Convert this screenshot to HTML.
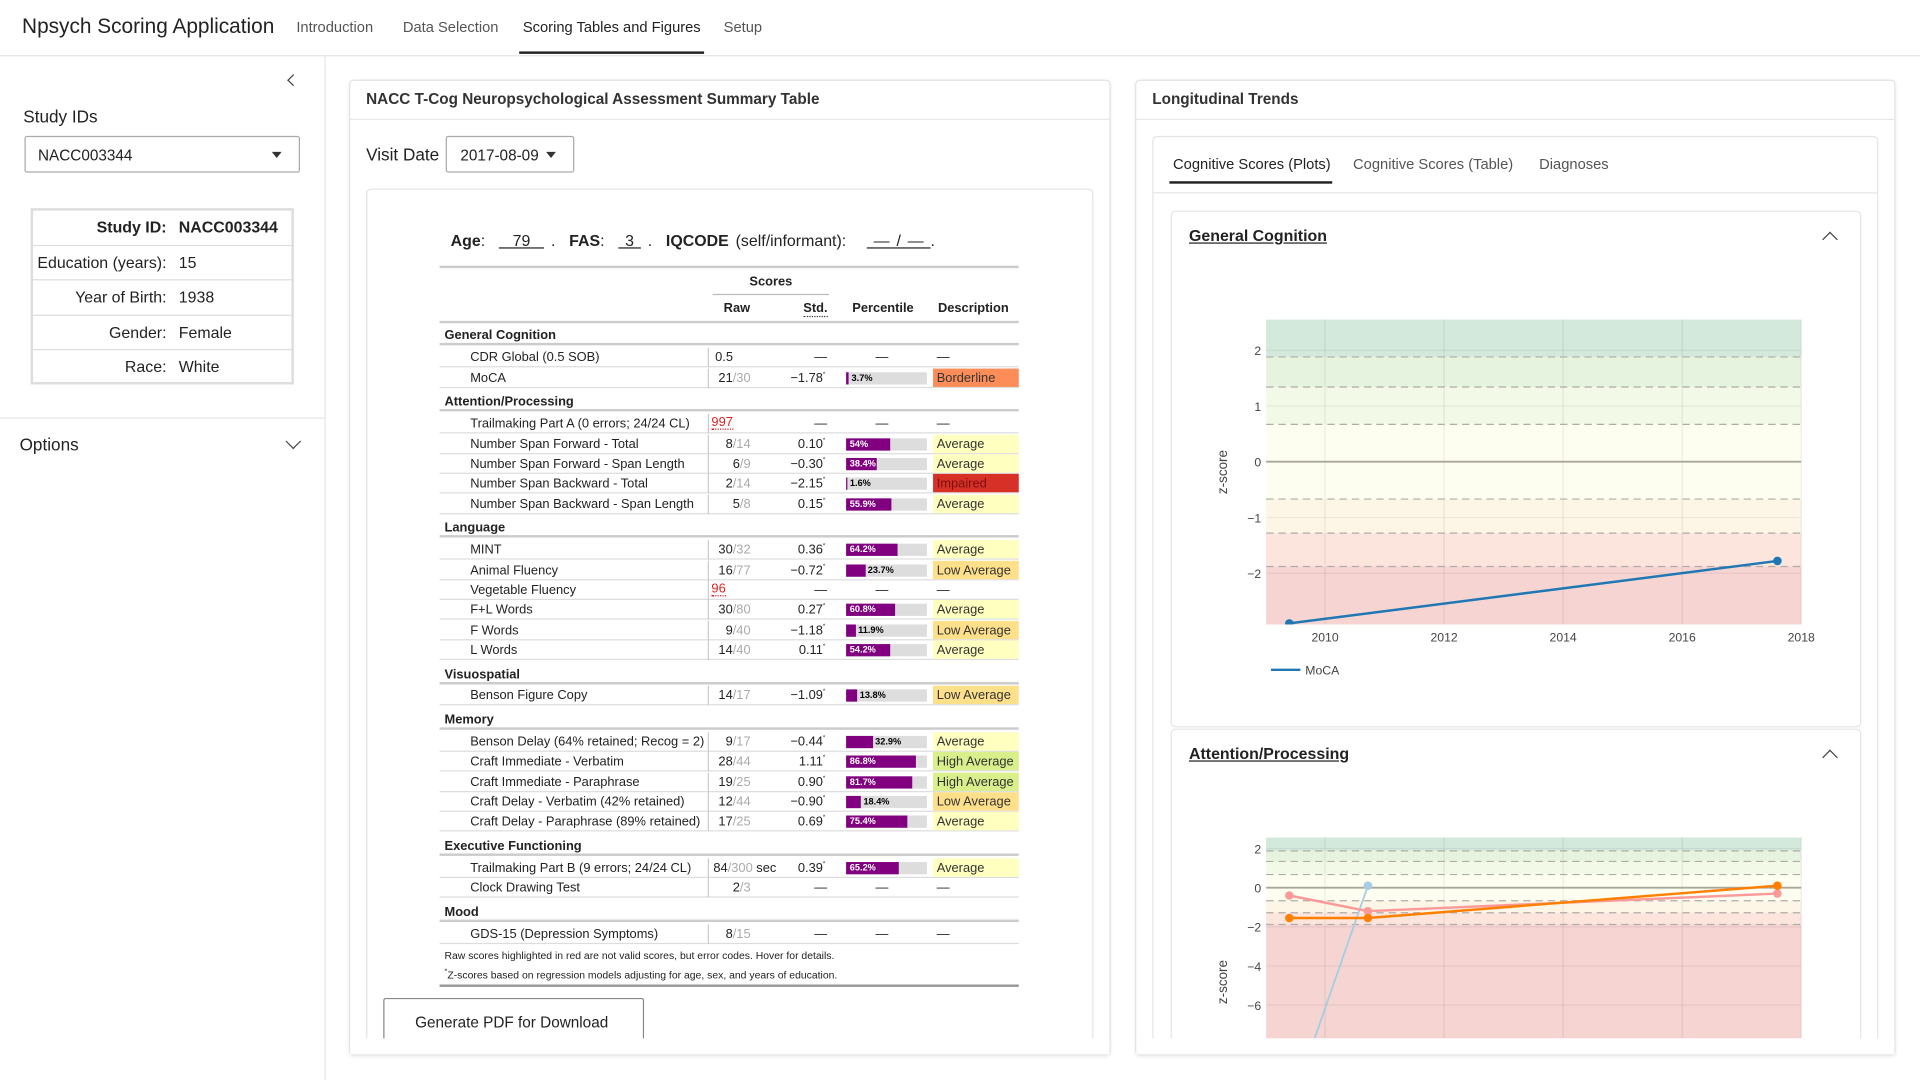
<!DOCTYPE html>
<html><head><meta charset="utf-8"><style>
*{box-sizing:border-box;margin:0;padding:0}
html,body{width:1920px;height:1080px;overflow:hidden;background:#fff}
body{font-family:"Liberation Sans",sans-serif;color:#222}
#root{position:absolute;left:0;top:0;width:1568px;height:882px;transform:scale(1.22449);transform-origin:0 0;overflow:hidden}
.a{position:absolute;white-space:nowrap}
.nav{font-size:12px;color:#555}
.card{position:absolute;border:1px solid #e3e3e3;border-radius:4px;background:#fff;box-shadow:0 1px 3px rgba(0,0,0,.08)}
.row{position:absolute;left:359px;width:473px;height:16.4px;font-size:10.5px;border-bottom:1px solid #ddd}
.sec{position:absolute;left:359px;width:473px;height:19px;font-size:10.5px;font-weight:bold;border-bottom:2px solid #ccc;padding:5px 0 0 4px}
.row span{position:absolute;top:2px}
.bar{position:absolute;left:332px;top:3px;width:66px;height:10px;background:#ddd}
.bar i{position:absolute;left:0;top:0;height:10px;background:#800080}
.bar b{position:absolute;top:0;font-size:7.5px;line-height:10px}
.desc{position:absolute;left:403px;top:0;width:70px;height:15.4px;padding:2px 0 0 3px}
.chev{position:absolute;width:9px;height:9px;border-right:1.5px solid #444;border-bottom:1.5px solid #444}
</style></head><body>
<div id="root">
<div class="a" style="left:0;top:45px;width:1568px;border-top:1px solid #e5e5e5"></div>
<div class="a" style="left:18px;top:12px;font-size:17px;color:#222">Npsych Scoring Application</div>
<div class="a nav" style="left:242px;top:15px">Introduction</div>
<div class="a nav" style="left:329px;top:15px">Data Selection</div>
<div class="a nav" style="left:427px;top:15px;color:#222">Scoring Tables and Figures</div>
<div class="a" style="left:424px;top:42px;width:151px;height:2px;background:#222"></div>
<div class="a nav" style="left:591px;top:15px">Setup</div>
<div class="a" style="left:265px;top:46px;height:836px;border-left:1px solid #e5e5e5"></div>
<div class="chev" style="left:236px;top:62px;transform:rotate(135deg);width:7px;height:7px"></div>
<div class="a" style="left:19px;top:87px;font-size:14px">Study IDs</div>
<div class="a" style="left:20px;top:111px;width:225px;height:30px;border:1px solid #aaa;border-radius:2px;font-size:12.5px;padding:8px 0 0 10px">NACC003344<span style="position:absolute;right:14px;top:12px;border:4px solid transparent;border-top:5px solid #333"></span></div>
<div class="a" style="left:25px;top:170px;width:215px;height:144px;border:2px solid #ddd"></div>
<div id="info"></div>
<div class="a" style="left:0;top:341px;width:265px;border-top:1px solid #e5e5e5"></div>
<div class="a" style="left:16px;top:355px;font-size:14px">Options</div>
<div class="chev" style="left:235px;top:356px;transform:rotate(45deg)"></div>
<div class="card" style="left:285px;top:65px;width:622px;height:797px"></div>
<div class="a" style="left:299px;top:74px;font-size:12.5px;font-weight:bold;color:#333">NACC T-Cog Neuropsychological Assessment Summary Table</div>
<div class="a" style="left:286px;top:97px;width:620px;border-top:1px solid #e8e8e8"></div>
<div class="a" style="left:299px;top:118px;font-size:14px">Visit Date</div>
<div class="a" style="left:364px;top:111px;width:105px;height:30px;border:1px solid #aaa;border-radius:2px;font-size:12.5px;padding:8px 0 0 11px">2017-08-09<span style="position:absolute;right:14px;top:12px;border:4px solid transparent;border-top:5px solid #333"></span></div>
<div class="a" style="left:299px;top:154px;width:594px;height:700px;border:1px solid #e3e3e3;border-radius:4px"></div>
<div class="a" style="left:368px;top:189px;font-size:13px;word-spacing:2px"><b>Age</b>: &nbsp;<u>&nbsp; 79 &nbsp;</u> . &nbsp;<b>FAS</b>: &nbsp;<u>&nbsp;3&nbsp;</u> . &nbsp;<b>IQCODE</b> (self/informant): &nbsp; <u>&nbsp;— / — </u> .</div>
<div class="a" style="left:359px;top:217px;width:473px;border-top:2px solid #ccc"></div>
<div class="a" style="left:612px;top:224px;font-size:10.5px;font-weight:bold">Scores</div>
<div class="a" style="left:582px;top:240px;width:95px;border-top:1px solid #bbb"></div>
<div class="a" style="left:591px;top:246px;font-size:10.5px;font-weight:bold">Raw</div>
<div class="a" style="left:656px;top:246px;font-size:10.5px;font-weight:bold;border-bottom:1px dotted #333">Std.</div>
<div class="a" style="left:696px;top:246px;font-size:10.5px;font-weight:bold">Percentile</div>
<div class="a" style="left:766px;top:246px;font-size:10.5px;font-weight:bold">Description</div>
<div class="a" style="left:359px;top:262px;width:473px;border-top:2px solid #ccc"></div>
<div id="tbl"></div>
<div class="a" style="left:363px;top:775px;font-size:8.5px">Raw scores highlighted in red are not valid scores, but error codes. Hover for details.</div>
<div class="a" style="left:363px;top:791px;font-size:8.5px"><sup style="font-size:6px">*</sup>Z-scores based on regression models adjusting for age, sex, and years of education.</div>
<div class="a" style="left:359px;top:804px;width:473px;border-top:2px solid #999"></div>
<div class="a" style="left:313px;top:815px;width:213px;height:40px;border:1px solid #888;border-radius:2px;font-size:12.5px;padding:12px 0 0 25px;background:#fff">Generate PDF for Download</div>
<div class="a" style="left:286px;top:848px;width:620px;height:13px;background:#fff"></div>
<div class="card" style="left:927px;top:65px;width:621px;height:797px"></div>
<div class="a" style="left:941px;top:74px;font-size:12.5px;font-weight:bold;color:#333">Longitudinal Trends</div>
<div class="a" style="left:928px;top:97px;width:619px;border-top:1px solid #e8e8e8"></div>
<div class="a" style="left:941px;top:111px;width:593px;height:745px;border:1px solid #e5e5e5;border-radius:4px"></div>
<div class="a" style="left:958px;top:127px;font-size:12px;color:#222">Cognitive Scores (Plots)</div>
<div class="a" style="left:955px;top:148px;width:133px;height:2px;background:#222"></div>
<div class="a" style="left:1105px;top:127px;font-size:12px;color:#555">Cognitive Scores (Table)</div>
<div class="a" style="left:1257px;top:127px;font-size:12px;color:#555">Diagnoses</div>
<div class="a" style="left:942px;top:157px;width:591px;border-top:1px solid #e5e5e5"></div>
<div class="a" style="left:956px;top:172px;width:564px;height:422px;border:1px solid #e5e5e5;border-radius:4px"></div>
<div class="a" style="left:971px;top:185px;font-size:13px;font-weight:bold;text-decoration:underline">General Cognition</div>
<div class="chev" style="left:1490px;top:191px;transform:rotate(225deg)"></div>
<div class="a" style="left:956px;top:595px;width:564px;height:260px;border:1px solid #e5e5e5;border-radius:4px"></div>
<div class="a" style="left:971px;top:608px;font-size:13px;font-weight:bold;text-decoration:underline">Attention/Processing</div>
<div class="chev" style="left:1490px;top:614px;transform:rotate(225deg)"></div>
<svg class="a" id="chart1" style="left:980px;top:250px" width="530" height="310"></svg>
<div class="a" style="left:980px;top:660px;width:530px;height:188px;overflow:hidden"><svg id="chart2" width="530" height="260"></svg></div>
<div class="a" style="left:928px;top:848px;width:619px;height:13px;background:#fff"></div>
</div>
<script>
var infoLabels=["Study ID:","Education (years):","Year of Birth:","Gender:","Race:"];
var infoVals=["NACC003344","15","1938","Female","White"];
var info=document.getElementById('info');
infoLabels.forEach(function(l,i){
  var d=document.createElement('div');d.className='a';
  d.style.cssText='left:27px;top:'+(172+i*28.6)+'px;width:211px;height:28.6px;font-size:13px;'+(i<4?'border-bottom:1px solid #ddd;':'')+(i==0?'font-weight:bold;':'');
  d.innerHTML='<span style="position:absolute;right:102px;top:6px">'+l+'</span><span style="position:absolute;left:119px;top:6px">'+infoVals[i]+'</span>';
  
  
  info.appendChild(d);
});
var rows=[
['s','General Cognition',273],
['r','CDR Global (0.5 SOB)','0.5','','','', '',292],
['r','MoCA','21','30','−1.78',3.7,'Borderline',309],
['s','Attention/Processing',327],
['r','Trailmaking Part A (0 errors; 24/24 CL)','997e','','','','',346],
['r','Number Span Forward - Total','8','14','0.10',54,'Average',363],
['r','Number Span Forward - Span Length','6','9','−0.30',38.4,'Average',379],
['r','Number Span Backward - Total','2','14','−2.15',1.6,'Impaired',395],
['r','Number Span Backward - Span Length','5','8','0.15',55.9,'Average',412],
['s','Language',430],
['r','MINT','30','32','0.36',64.2,'Average',449],
['r','Animal Fluency','16','77','−0.72',23.7,'Low Average',466],
['r','Vegetable Fluency','96e','','','','',482],
['r','F+L Words','30','80','0.27',60.8,'Average',498],
['r','F Words','9','40','−1.18',11.9,'Low Average',515],
['r','L Words','14','40','0.11',54.2,'Average',531],
['s','Visuospatial',550],
['r','Benson Figure Copy','14','17','−1.09',13.8,'Low Average',568],
['s','Memory',587],
['r','Benson Delay (64% retained; Recog = 2)','9','17','−0.44',32.9,'Average',606],
['r','Craft Immediate - Verbatim','28','44','1.11',86.8,'High Average',622],
['r','Craft Immediate - Paraphrase','19','25','0.90',81.7,'High Average',639],
['r','Craft Delay - Verbatim (42% retained)','12','44','−0.90',18.4,'Low Average',655],
['r','Craft Delay - Paraphrase (89% retained)','17','25','0.69',75.4,'Average',671],
['s','Executive Functioning',690],
['r','Trailmaking Part B (9 errors; 24/24 CL)','84','300 sec','0.39',65.2,'Average',709],
['r','Clock Drawing Test','2','3','','','',725],
['s','Mood',744],
['r','GDS-15 (Depression Symptoms)','8','15','','','',763]
];
var descColors={'Borderline':'#fc8d59','Impaired':'#d73027','Average':'#ffffbf','Low Average':'#fee08b','High Average':'#d9ef8b'};
var tbl=document.getElementById('tbl');
rows.forEach(function(r){
  var d=document.createElement('div');
  if(r[0]=='s'){d.className='sec';d.style.top=(r[2]-10)+'px';d.textContent=r[1];
    
    
    tbl.appendChild(d);return;}
  d.className='row';d.style.top=(r[7]-8)+'px';
  var h='<span style="left:25px">'+r[1]+'</span><span style="left:219px;top:0;height:16px;border-left:1px solid #ccc"></span>';
  var raw=r[2];
  if(raw.slice(-1)=='e'){h+='<span style="left:222px;color:#e02020;border-bottom:1px dotted #e02020;line-height:10px">'+raw.slice(0,-1)+'</span>';}
  else if(r[3]===''){h+='<span style="left:225px">'+raw+'</span>';}
  else{h+='<span style="right:'+(r[3]=='300 sec'?(473-275):(473-254))+'px">'+raw+'<span style="position:static;color:#aaa">/'+r[3].replace(' sec','')+'</span>'+(r[3]=='300 sec'?' sec':'')+'</span>';}
  if(r[4]){h+='<span style="right:158px">'+r[4]+'<sup style="font-size:5px;vertical-align:top">*</sup></span>';
    var p=r[5],w=p*0.66,inside=p>35;
    h+='<div class="bar"><i style="width:'+w+'px"></i><b style="'+(inside?'left:3px;color:#fff':'left:'+(w+2)+'px;color:#000')+'">'+p+'%</b></div>';
    h+='<div class="desc" style="background:'+descColors[r[6]]+';color:'+(r[6]=='Impaired'?'#7a1010':'#333')+'">'+r[6]+'</div>';
  } else {
    h+='<span style="left:306px">—</span><span style="left:356px">—</span><span style="left:406px">—</span>';
  }
  d.innerHTML=h;
  
  
  tbl.appendChild(d);
});
</script>
<script>
var gcYears=[2009.4,2017.6];
var gcMoca=[-2.9,-1.78];
var xTicks=[2010,2012,2014,2016,2018];
var gcYTicks=[-2,-1,0,1,2];
var apYears=[2009.4,2010.72,2017.6];
var apSeriesBlue=[-11.4,0.1];
var apBlueYears=[2009.4,2010.72];
var apSeriesOrange=[-1.55,-1.55,0.1];
var apSeriesPink=[-0.4,-1.2,-0.3];
var apYTicks=[-6,-4,-2,0,2];
var bandBreaks=[1.88,1.34,0.67,-0.67,-1.28,-1.88];
var bandColors=['#d3e9dc','#e6f3de','#f3f9e7','#fefef0','#fdf6e6','#fbe5dc','#f6d4d2'];
var NS='http://www.w3.org/2000/svg';
function el(svg,t,a){var e=document.createElementNS(NS,t);for(var k in a)e.setAttribute(k,a[k]);svg.appendChild(e);return e;}
function drawChart(svg,opt){
  var L=opt.L,R=opt.R,T=opt.T,B=opt.B;
  function x(v){return L+(v-opt.x0)/(opt.x1-opt.x0)*(R-L);}
  function y(v){return T+(opt.y1-v)/(opt.y1-opt.y0)*(B-T);}
  var edges=[opt.y1].concat(bandBreaks).concat([opt.y0]);
  for(var i=0;i<bandColors.length;i++){
    var r=el(svg,'rect',{x:L,y:y(edges[i]),width:R-L,height:y(edges[i+1])-y(edges[i]),fill:bandColors[i]});
    
    
  }
  xTicks.forEach(function(t){
    el(svg,'line',{x1:x(t),x2:x(t),y1:T,y2:B,stroke:'rgba(0,0,0,0.07)'});
    if(opt.xlabels){var tx=el(svg,'text',{x:x(t),y:B+14,'text-anchor':'middle','font-size':10,fill:'#444'});tx.textContent=t;
      
      }
  });
  opt.yTicks.forEach(function(t){
    el(svg,'line',{x1:L,x2:R,y1:y(t),y2:y(t),stroke:t==0?'#aaa79a':'rgba(0,0,0,0.06)','stroke-width':t==0?1.5:1});
    var tx=el(svg,'text',{x:L-4,y:y(t)+4,'text-anchor':'end','font-size':10,fill:'#444'});tx.textContent=(t<0?'−':'')+Math.abs(t);
    
    
  });
  bandBreaks.forEach(function(b){el(svg,'line',{x1:L,x2:R,y1:y(b),y2:y(b),stroke:'#b0aca6','stroke-dasharray':'6,4','stroke-width':1});});
  var yt=el(svg,'text',{x:0,y:0,transform:'translate('+(L-32)+','+((T+B)/2)+') rotate(-90)','text-anchor':'middle','font-size':11,fill:'#444'});yt.textContent='z-score';
  
  
  el(svg,'clipPath',{id:opt.id+'clip'}).appendChild(document.createElementNS(NS,'rect'));
  var cr=svg.querySelector('#'+opt.id+'clip rect');cr.setAttribute('x',L);cr.setAttribute('y',T);cr.setAttribute('width',R-L);cr.setAttribute('height',B-T);
  opt.series.forEach(function(s){
    var g=el(svg,'g',{'clip-path':'url(#'+opt.id+'clip)'});
    var pts=s.xs.map(function(v,i){return x(v)+','+y(s.ys[i]);}).join(' ');
    var pl=el(g,'polyline',{points:pts,fill:'none',stroke:s.c,'stroke-width':s.w});
    
    
    s.xs.forEach(function(v,i){var c=el(g,'circle',{cx:x(v),cy:y(s.ys[i]),r:3.5,fill:s.c});
      
      });
  });
  return {x:x,y:y};
}
var c1=document.getElementById('chart1');
drawChart(c1,{id:'c1',L:54,R:491,T:11,B:260,x0:2009.01,x1:2018,y0:-2.92,y1:2.55,yTicks:gcYTicks,xlabels:true,
  series:[{name:'moca',xs:gcYears,ys:gcMoca,c:'#1f77b4',w:2}]});
el(c1,'line',{x1:58,x2:82,y1:297,y2:297,stroke:'#1f77b4','stroke-width':2});
var lg=el(c1,'text',{x:86,y:301,'font-size':10,fill:'#444'});lg.textContent='MoCA';


var c2=document.getElementById('chart2');
drawChart(c2,{id:'c2',L:54,R:491,T:24,B:260,x0:2009.01,x1:2018,y0:-12.2,y1:2.56,yTicks:apYTicks,xlabels:false,
  series:[{name:'span-backward',xs:apBlueYears,ys:apSeriesBlue,c:'#a6cee3',w:1.5},
          {name:'span-forward-length',xs:apYears,ys:apSeriesPink,c:'#fb9a99',w:2},
          {name:'span-forward-total',xs:apYears,ys:apSeriesOrange,c:'#ff7f00',w:2}]});
</script>
</body></html>
